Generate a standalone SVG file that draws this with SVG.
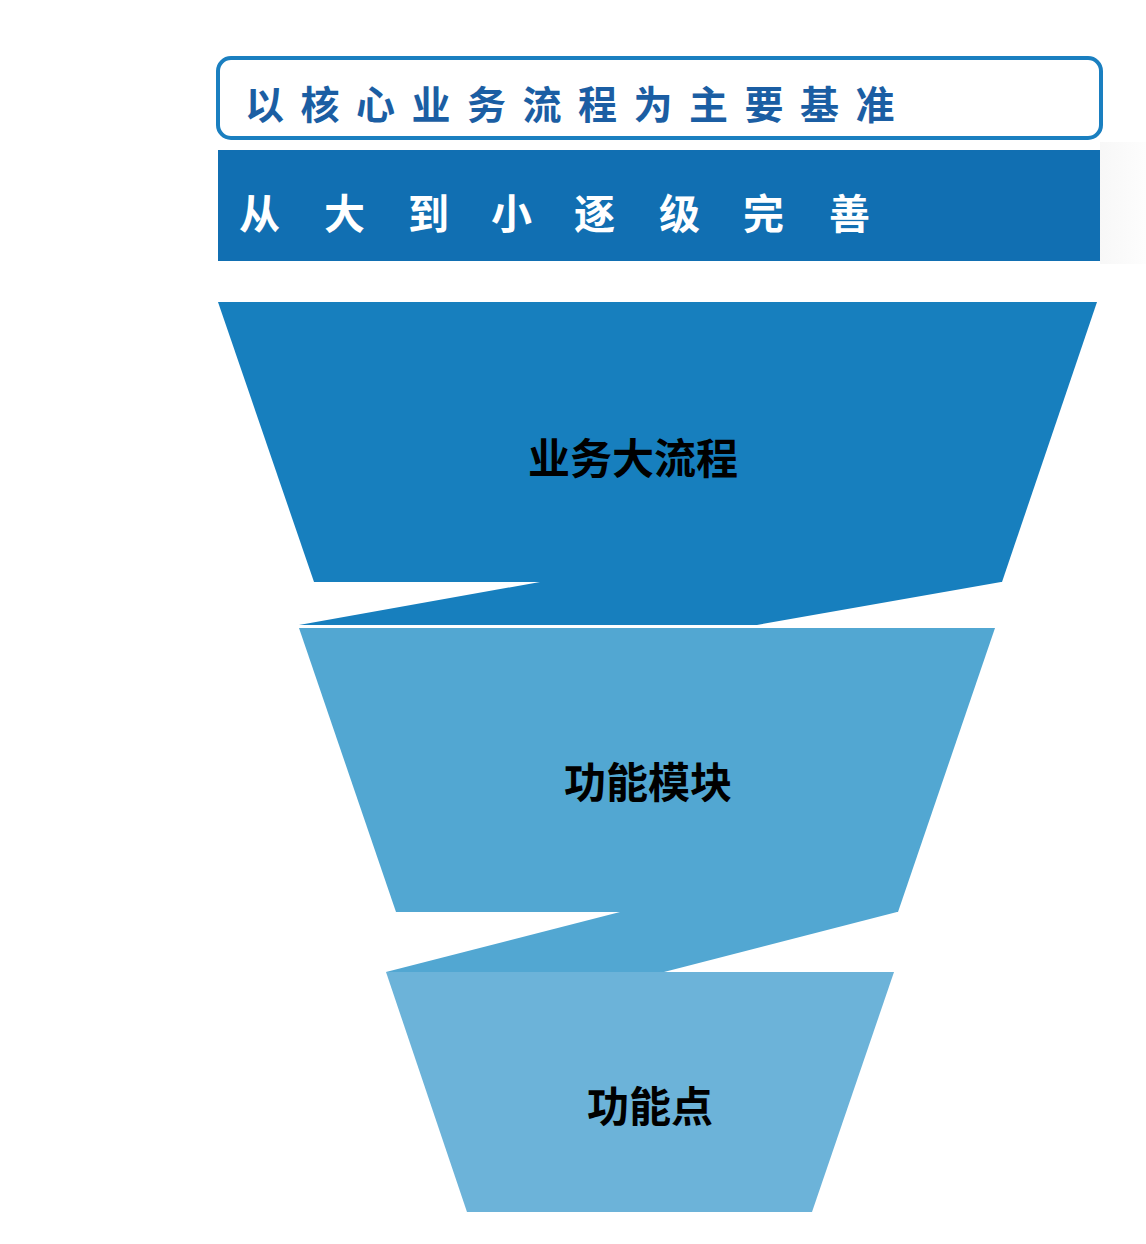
<svg xmlns="http://www.w3.org/2000/svg" width="1146" height="1244" viewBox="0 0 1146 1244">
<defs>
<linearGradient id="shadow" x1="0" y1="0" x2="1" y2="0">
<stop offset="0" stop-color="#f0f0f0"/>
<stop offset="1" stop-color="#fbfbfb"/>
</linearGradient>
</defs>
<style>
.cjk{font-family:"Noto Sans CJK SC","Noto Sans CJK JP",sans-serif;}
.head{font-size:39px;fill:#1b5ea3;font-weight:bold;}
.band{font-size:41px;fill:#ffffff;font-weight:bold;}
.lbl{font-size:42px;fill:#000000;font-weight:bold;text-anchor:middle;}
.l1{fill:#177fbe;}
.l2{fill:#52a7d2;}
.l3{fill:#6cb3d9;}
</style>
<rect width="1146" height="1244" fill="#ffffff"/>
<rect x="1100" y="142" width="46" height="122" fill="url(#shadow)" opacity="0.5"/>
<g id="header">
<rect x="218" y="58" width="883" height="80" rx="13" fill="#ffffff" stroke="#1a7fc0" stroke-width="4"/>
<text class="cjk head" x="245" y="119" letter-spacing="16.5">以核心业务流程为主要基准</text>
</g>
<g id="band">
<rect x="218" y="150" width="882" height="111" fill="#116fb2"/>
<text class="cjk band" y="229" x="239 281 324 366 408 450 491 533 574 616 659 701 743 785 829">从 大 到 小 逐 级 完 善</text>
</g>
<g id="connectors">
<polygon class="l1" points="540,582 1001,582 757,625 299,625"/>
<polygon class="l2" points="620,912 897,912 664,972 386,972"/>
</g>
<g id="level1">
<polygon class="l1" points="218,302 1097,302 1002,582 314,582"/>
<text class="cjk lbl" x="633" y="474">业务大流程</text>
</g>
<g id="level2">
<polygon class="l2" points="299,628 995,628 898,912 396,912"/>
<text class="cjk lbl" x="648" y="798">功能模块</text>
</g>
<g id="level3">
<polygon class="l3" points="386,972 894,972 812,1212 467,1212"/>
<text class="cjk lbl" x="650" y="1122">功能点</text>
</g>
</svg>
